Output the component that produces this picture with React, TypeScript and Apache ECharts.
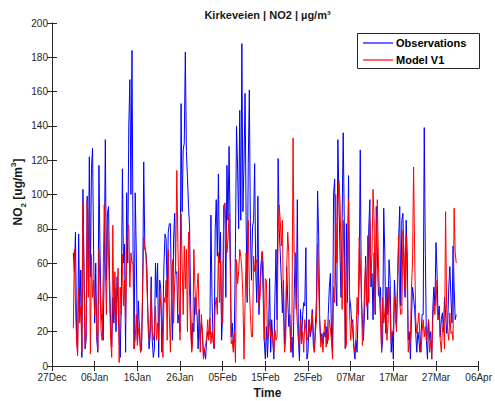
import React, { useEffect, useRef } from "react";
import * as echarts from "echarts";

// Time: 6-hourly samples starting 2019-01-01 00:00; x axis counts days since 27 Dec 2018
const AXIS_START_UTC = Date.UTC(2018, 11, 27);
const FIRST_SAMPLE_DAY = 5; // 1 Jan
const SAMPLES_PER_DAY = 4;
const MONTHS = ["Jan", "Feb", "Mar", "Apr", "May", "Jun", "Jul", "Aug", "Sep", "Oct", "Nov", "Dec"];
const X_TICK_DAYS = [0, 10, 20, 30, 40, 50, 60, 70, 80, 90, 100];
const Y_TICKS = [0, 20, 40, 60, 80, 100, 120, 140, 160, 180, 200];

const observationsJan = [
  66, 55, 78, 20, 8, 77, 30, 56, 5, 103, 60, 10, 15, 99, 50, 122, 52, 115, 127, 68,
  25, 60, 15, 8, 117, 68, 31, 25, 15, 60, 132, 50, 89, 93, 50, 25, 11, 40, 25, 45,
  20, 52, 35, 15, 5, 40, 115, 60, 71, 8, 101, 60, 140, 167, 100, 184, 68, 10, 101, 68,
  15, 38, 20, 8, 10, 45, 119, 70, 66, 58, 25, 10, 17, 52, 15, 5, 10, 60, 40, 60,
  5, 50, 45, 8, 30, 60, 77, 74, 40, 78, 83, 83, 40, 15, 74, 89, 54, 55, 25, 30,
  20, 153, 90, 126, 130, 183, 125, 110, 93, 81, 35, 10, 25, 20, 40, 35, 30, 10, 33, 15,
  25, 20, 5, 10,
];
const observationsFeb = [
  4, 15, 20, 18, 20, 88, 40, 15, 10, 80, 97, 64, 112, 60, 78, 15, 30, 93, 95, 40,
  117, 85, 128, 80, 17, 25, 10, 20, 71, 140, 116, 80, 149, 85, 188, 90, 118, 159, 85, 37,
  118, 161, 80, 50, 81, 85, 118, 55, 37, 99, 30, 48, 60, 66, 40, 15, 4, 23, 5, 20,
  51, 8, 27, 15, 4, 40, 68, 27, 121, 80, 66, 50, 31, 50, 13, 20, 58, 39, 23, 30,
  8, 17, 5, 40, 66, 33, 97, 15, 3, 33, 15, 30, 37, 35, 69, 4, 8, 27, 17, 20,
  33, 12, 8, 25, 40, 102, 76, 27, 15, 19, 13, 20,
];
const observationsMar = [
  17, 23, 13, 30, 46, 54, 20, 8, 101, 109, 50, 35, 132, 97, 66, 40, 85, 136, 85, 10,
  83, 37, 111, 40, 35, 25, 27, 10, 4, 15, 8, 30, 50, 126, 40, 27, 15, 31, 64, 40,
  27, 81, 97, 46, 54, 27, 66, 30, 93, 66, 42, 40, 46, 8, 15, 92, 66, 19, 46, 30,
  62, 50, 8, 20, 4, 50, 37, 25, 46, 74, 93, 35, 85, 89, 56, 40, 85, 66, 15, 20,
  4, 27, 46, 40, 33, 19, 8, 20, 15, 8, 19, 30, 30, 139, 66, 15, 4, 27, 15, 20,
  4, 33, 46, 35, 72, 54, 27, 35, 17, 27, 31, 20, 40, 31, 19, 25, 46, 58, 40, 25,
  70, 46, 27, 30,
];

const modelJan = [
  22, 68, 35, 15, 6, 45, 25, 35, 8, 95, 50, 12, 20, 97, 40, 91, 7, 65, 40, 50,
  30, 40, 20, 10, 68, 46, 20, 15, 54, 94, 60, 30, 85, 65, 40, 15, 5, 82, 30, 55,
  25, 45, 57, 2, 46, 30, 65, 35, 50, 25, 66, 82, 82, 46, 66, 60, 60, 10, 15, 30,
  12, 20, 25, 8, 15, 46, 75, 68, 66, 46, 30, 15, 23, 46, 20, 15, 20, 35, 15, 25,
  15, 44, 35, 25, 5, 40, 37, 50, 15, 68, 30, 8, 40, 62, 25, 48, 60, 114, 72, 40,
  15, 89, 60, 30, 70, 45, 68, 20, 78, 40, 20, 8, 15, 68, 46, 30, 45, 54, 30, 8,
  30, 20, 4, 10,
];
const modelFeb = [
  12, 17, 27, 15, 28, 13, 20, 15, 11, 35, 40, 30, 66, 37, 62, 25, 25, 93, 95, 83,
  66, 74, 89, 60, 13, 15, 8, 20, 2, 62, 48, 55, 68, 64, 56, 40, 4, 37, 66, 40,
  85, 46, 30, 17, 17, 64, 55, 60, 62, 46, 35, 40, 55, 67, 60, 15, 51, 50, 15, 20,
  27, 17, 20, 15, 8, 21, 15, 17, 78, 94, 85, 70, 85, 31, 8, 14, 56, 78, 66, 25,
  8, 30, 133, 66, 66, 37, 25, 15, 11, 27, 13, 20, 8, 27, 21, 15, 17, 27, 19, 25,
  31, 21, 8, 20, 27, 71, 46, 25, 11, 17, 8, 20,
];
const modelMar = [
  27, 11, 20, 15, 27, 21, 15, 4, 46, 37, 100, 60, 95, 108, 97, 66, 33, 85, 55, 10,
  12, 60, 97, 30, 15, 27, 19, 12, 8, 17, 40, 30, 75, 60, 46, 12, 21, 46, 60, 35,
  76, 37, 85, 50, 66, 103, 85, 31, 66, 97, 62, 40, 27, 8, 40, 25, 31, 40, 15, 25,
  46, 31, 13, 20, 21, 40, 27, 20, 54, 76, 37, 30, 31, 79, 66, 45, 76, 46, 8, 15,
  15, 46, 60, 116, 66, 27, 19, 25, 31, 15, 8, 20, 27, 17, 23, 15, 19, 27, 8, 15,
  4, 27, 37, 30, 50, 35, 27, 30, 15, 8, 21, 25, 10, 90, 33, 20, 15, 31, 19, 20,
  15, 92, 66, 60,
];

const observations = [...observationsJan, ...observationsFeb, ...observationsMar];
const model = [...modelJan, ...modelFeb, ...modelMar];

const toSeries = (vals: number[]) =>
  vals.map((v, i) => [FIRST_SAMPLE_DAY + i / SAMPLES_PER_DAY, v]);

const fmtDay = (v: number) => {
  const d = new Date(AXIS_START_UTC + Math.round(v) * 86400000);
  return String(d.getUTCDate()).padStart(2, "0") + MONTHS[d.getUTCMonth()];
};

const FONT = "'Liberation Sans', Arial, Helvetica, sans-serif";
const AXIS_COLOR = "#262626";

export default function App() {
  const ref = useRef<HTMLDivElement>(null);
  useEffect(() => {
    if (!ref.current) return;
    const chart = echarts.init(ref.current, null, { renderer: "svg" });
    const xMin = X_TICK_DAYS[0];
    const xMax = X_TICK_DAYS[X_TICK_DAYS.length - 1];
    const yMin = Y_TICKS[0];
    const yMax = Y_TICKS[Y_TICKS.length - 1];
    const common = {
      axisLine: { show: true, lineStyle: { color: AXIS_COLOR, width: 1 } },
      axisTick: { show: true, inside: true, length: 5, lineStyle: { color: AXIS_COLOR } },
      splitLine: { show: false },
    };
    chart.setOption({
      animation: false,
      backgroundColor: "#ffffff",
      grid: { left: 52, right: 12, top: 23, bottom: 35, containLabel: false },
      xAxis: [
        {
          type: "value",
          min: xMin,
          max: xMax,
          interval: 10,
          position: "bottom",
          ...common,
          axisLabel: {
            color: AXIS_COLOR,
            fontFamily: FONT,
            fontSize: 10,
            margin: 6,
            formatter: (v: number) => fmtDay(v),
          },
        },
        {
          type: "value",
          min: xMin,
          max: xMax,
          interval: 10,
          position: "top",
          ...common,
          axisLabel: { show: false },
        },
      ],
      yAxis: [
        {
          type: "value",
          min: yMin,
          max: yMax,
          interval: 20,
          position: "left",
          ...common,
          axisLabel: { color: AXIS_COLOR, fontFamily: FONT, fontSize: 10, margin: 4 },
        },
        {
          type: "value",
          min: yMin,
          max: yMax,
          interval: 20,
          position: "right",
          ...common,
          axisLabel: { show: false },
        },
      ],
      series: [
        {
          name: "Observations",
          type: "line",
          xAxisIndex: 0,
          yAxisIndex: 0,
          data: toSeries(observations),
          showSymbol: false,
          symbol: "none",
          lineStyle: { color: "#0000ff", width: 1 },
          itemStyle: { color: "#0000ff" },
          silent: true,
        },
        {
          name: "Model V1",
          type: "line",
          xAxisIndex: 0,
          yAxisIndex: 0,
          data: toSeries(model),
          showSymbol: false,
          symbol: "none",
          lineStyle: { color: "#ff0000", width: 1 },
          itemStyle: { color: "#ff0000" },
          silent: true,
        },
      ],
      graphic: [
        {
          type: "text",
          x: 267.5,
          y: 15,
          style: {
            text: "Kirkeveien | NO2 | µg/m³",
            font: `bold 11px ${FONT}`,
            fill: "#1a1a1a",
            align: "center",
            verticalAlign: "middle",
          },
        },
        {
          type: "text",
          x: 267.5,
          y: 393,
          style: {
            text: "Time",
            font: `bold 12px ${FONT}`,
            fill: "#1a1a1a",
            align: "center",
            verticalAlign: "middle",
          },
        },
        {
          type: "text",
          x: 18,
          y: 192,
          rotation: Math.PI / 2,
          style: {
            text: "{b|NO}{s|2}{b| [ug/m}{p|3}{b|]}",
            align: "center",
            verticalAlign: "middle",
            rich: {
              b: { font: `bold 12px ${FONT}`, fill: "#1a1a1a", lineHeight: 18 },
              s: { font: `bold 8px ${FONT}`, fill: "#1a1a1a", verticalAlign: "bottom", lineHeight: 10 },
              p: { font: `bold 8px ${FONT}`, fill: "#1a1a1a", verticalAlign: "top", lineHeight: 10 },
            },
          },
        },
        {
          type: "rect",
          shape: { x: 357.5, y: 33.5, width: 122, height: 35 },
          style: { fill: "#ffffff", stroke: AXIS_COLOR, lineWidth: 1 },
          z: 10,
        },
        {
          type: "line",
          shape: { x1: 363, y1: 43, x2: 393, y2: 43 },
          style: { stroke: "#6b6bff", lineWidth: 2 },
          z: 11,
        },
        {
          type: "line",
          shape: { x1: 363, y1: 60, x2: 393, y2: 60 },
          style: { stroke: "#ff6b6b", lineWidth: 2 },
          z: 11,
        },
        {
          type: "text",
          x: 396,
          y: 43,
          z: 11,
          style: {
            text: "Observations",
            font: `bold 11px ${FONT}`,
            fill: "#000000",
            verticalAlign: "middle",
          },
        },
        {
          type: "text",
          x: 396,
          y: 60,
          z: 11,
          style: {
            text: "Model V1",
            font: `bold 11px ${FONT}`,
            fill: "#000000",
            verticalAlign: "middle",
          },
        },
      ],
    });
    return () => chart.dispose();
  }, []);
  return (
    <div
      ref={ref}
      style={{ position: "fixed", left: 0, top: 0, width: 495, height: 401 }}
    />
  );
}
